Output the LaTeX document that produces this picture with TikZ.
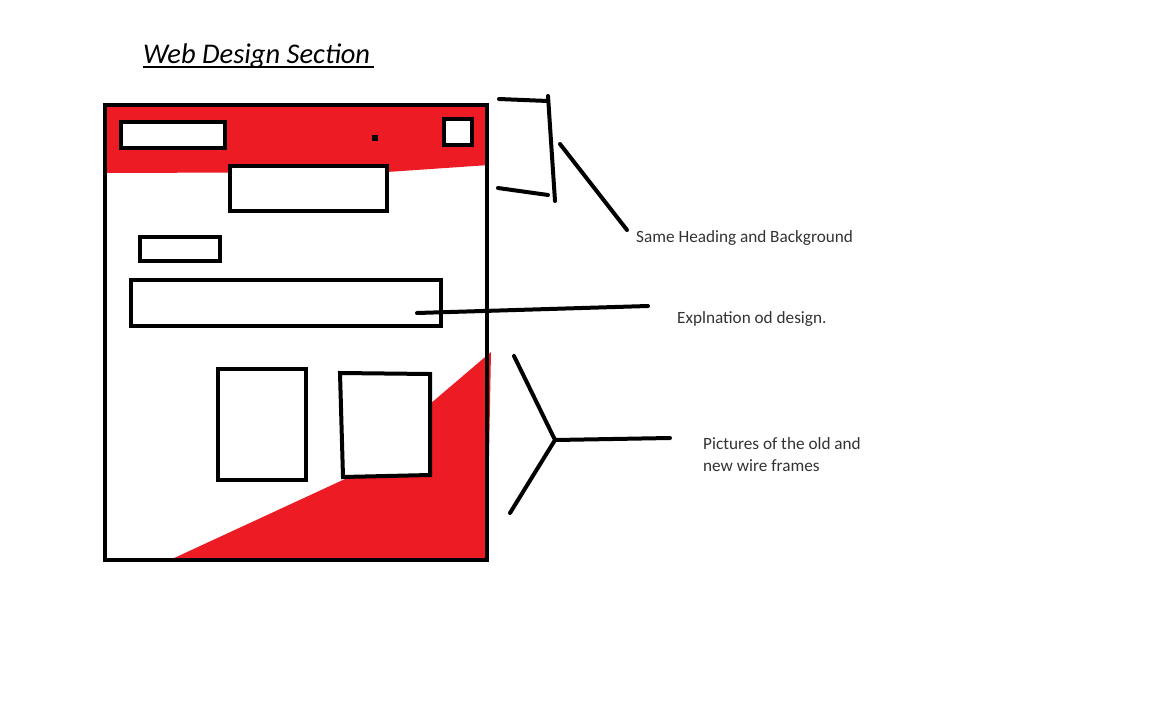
\documentclass[tikz,border=0pt]{standalone}
\usepackage{fontspec}
\setmainfont{Carlito}
\definecolor{paintred}{HTML}{ED1C24}
\begin{document}
\begin{tikzpicture}[x=1pt,y=-1pt,
  ink/.style={line width=4pt,draw=black,line cap=round,line join=round},
  wbox/.style={line width=4pt,draw=black,fill=white},
  lbl/.style={anchor=west,inner sep=0pt,font=\fontsize{17.2}{22}\selectfont,text=black!80,align=left}]
\useasboundingbox[fill=white] (0,0) rectangle (1152,702);
% title
\node[anchor=base west,inner sep=0pt,font=\fontsize{28.5}{32}\selectfont\itshape] (title) at (143,63) {Web Design Section};
\draw[line width=2pt] (title.base west) ++(0,4) -- ++(231,0);
% red areas
\fill[paintred] (105,105) -- (487,105) -- (489,165) -- (387,172) -- (105,173) -- cycle;
\fill[paintred] (172,559) -- (345,479) -- (430,404) -- (491,352) -- (487,560) -- cycle;
% frame
\draw[line width=4pt] (105,105) rectangle (487,560);
% boxes
\draw[wbox] (121,122) rectangle (225,148);
\draw[wbox] (444,119) rectangle (472,145);
\fill (372,135) rectangle (378,141);
\draw[wbox] (230,166) rectangle (387,211);
\draw[wbox] (140,237) rectangle (220,261);
\draw[wbox] (131,280) rectangle (441,326);
\draw[wbox] (218,369) rectangle (306,480);
\draw[wbox] (340,373) -- (430,374) -- (430,475) -- (343,477) -- cycle;
% bracket
\coordinate (b1) at (499,99);
\coordinate (b2) at (548,101);
\coordinate (b3) at (555,201);
\coordinate (b4) at (548,195);
\coordinate (b5) at (498,188);
\draw[ink] (b1) -- (b2);
\draw[ink] (548,96) -- (b3);
\draw[ink] (b5) -- (b4);
\node[lbl] (t1) at (636,238) {Same Heading and Background};
\coordinate (p1) at (560,144);
\coordinate (p2) at (627,230);
\draw[ink] (p1) -- (p2);
% explanation
\node[lbl] (t2) at (677,319) {Explnation od design.};
\coordinate (e1) at (417,313);
\coordinate (e2) at (648,306);
\draw[ink] (e1) -- (e2);
% Y connector
\node[lbl] (t3) at (703,455) {Pictures of the old and\\new wire frames};
\coordinate (y0) at (555,440);
\coordinate (y1) at (514,356);
\coordinate (y2) at (510,513);
\coordinate (y3) at (670,438);
\draw[ink] (y1) -- (y0) -- (y2);
\draw[ink] (y0) -- (y3);
\end{tikzpicture}
\end{document}
